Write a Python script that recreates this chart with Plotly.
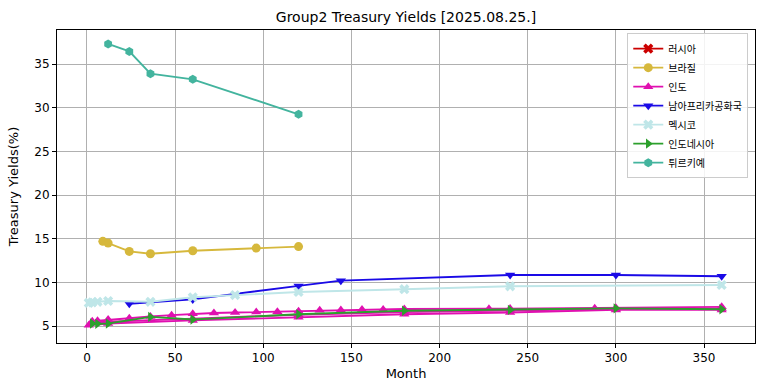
import plotly.graph_objects as go

title = "Group2 Treasury Yields [2025.08.25.]"

# --- data (months, yield %) ---
russia_x = [None]
russia_y = [None]

brazil_x = [9, 12, 24, 36, 60, 96, 120]
brazil_y = [14.7, 14.5, 13.55, 13.28, 13.62, 13.93, 14.1]

# India: three listings of the curve (gaps separate them)
india_x = [3, 6, 12, 24, 36, 48, 60, 72, 84, 96, 108, 120, 132, 144, 156, 168, 180, 228, 240, 288, 300, 360,
           None,
           3, 12, 60, 120, 180, 240, 300, 360,
           None,
           1, 12, 60, 120, 180, 240, 300, 360]
india_y = [5.55, 5.6, 5.75, 5.9, 6.1, 6.25, 6.4, 6.5, 6.55, 6.6, 6.65, 6.7, 6.8, 6.85, 6.9, 6.9, 6.95, 6.98, 7.0, 7.05, 7.1, 7.2,
           None,
           5.4, 5.5, 5.85, 6.3, 6.6, 6.8, 6.95, 7.0,
           None,
           5.1, 5.3, 5.65, 6.0, 6.35, 6.55, 6.85, 6.85]

safrica_x = [24, 60, 120, 144, 240, 300, 360]
safrica_y = [7.55, 8.05, 9.6, 10.2, 10.85, 10.85, 10.7]

mexico_x = [1, 3, 6, 12, 36, 60, 84, 120, 180, 240, 360]
mexico_y = [7.65, 7.72, 7.78, 7.87, 7.78, 8.3, 8.55, 8.9, 9.22, 9.55, 9.7]

indonesia_x = [3, 6, 12, 36, 60, 120, 180, 240, 300, 360]
indonesia_y = [5.3, 5.25, 5.3, 6.05, 5.75, 6.35, 6.75, 6.85, 7.03, 6.92]

turkey_x = [12, 24, 36, 60, 120]
turkey_y = [37.3, 36.45, 33.9, 33.25, 29.25]

x_ticks = [0, 50, 100, 150, 200, 250, 300, 350]
y_ticks = [5, 10, 15, 20, 25, 30, 35]

series = [
    ("러시아", russia_x, russia_y, "#CC0000", "x"),
    ("브라질", brazil_x, brazil_y, "#D6B83C", "circle"),
    ("인도", india_x, india_y, "#E010B0", "triangle-up"),
    ("남아프리카공화국", safrica_x, safrica_y, "#1A0AE6", "triangle-down"),
    ("멕시코", mexico_x, mexico_y, "#BFE6E8", "x"),
    ("인도네시아", indonesia_x, indonesia_y, "#2CA02C", "triangle-right"),
    ("튀르키예", turkey_x, turkey_y, "#43B49E", "hexagon"),
]

fig = go.Figure()
for name, xs, ys, color, sym in series:
    fig.add_trace(go.Scatter(
        x=xs, y=ys, name=name, mode="lines+markers",
        line=dict(color=color, width=1.9),
        marker=dict(color=color, symbol=sym, size=9, line=dict(width=0)),
        connectgaps=False, showlegend=True,
    ))

axis_common = dict(
    showline=True, linecolor="black", linewidth=1, mirror=True,
    ticks="outside", ticklen=4, tickcolor="black", tickwidth=1,
    showgrid=True, gridcolor="#b0b0b0", gridwidth=1, zeroline=False,
    tickfont=dict(family="DejaVu Sans", size=12, color="black"),
    automargin=False,
)

fig.update_layout(
    width=764, height=391,
    margin=dict(l=57, r=9, t=30, b=48),
    paper_bgcolor="white", plot_bgcolor="white",
    title=dict(text=title, x=(57 + 755) / 2 / 764, xanchor="center", y=1 - 17 / 391, yanchor="middle",
               font=dict(family="DejaVu Sans", size=14, color="black")),
    xaxis=dict(range=[-17, 378.9], tickvals=x_ticks,
               title=dict(text="Month", font=dict(family="DejaVu Sans", size=13, color="black"), standoff=4),
               **axis_common),
    yaxis=dict(range=[3.06, 38.9], tickvals=y_ticks,
               title=dict(text="Treasury Yields(%)", font=dict(family="DejaVu Sans", size=13, color="black"), standoff=12),
               **axis_common),
    legend=dict(x=0.817, y=0.99, xanchor="left", yanchor="top",
                bgcolor="rgba(255,255,255,0.85)", bordercolor="#cccccc", borderwidth=1,
                font=dict(family="Noto Sans CJK KR", size=10, color="black"),
                tracegroupgap=0, itemwidth=30),
    showlegend=True,
)

fig.write_html("out.html", config={"displayModeBar": False},
               post_script="document.body.style.margin='0';")
